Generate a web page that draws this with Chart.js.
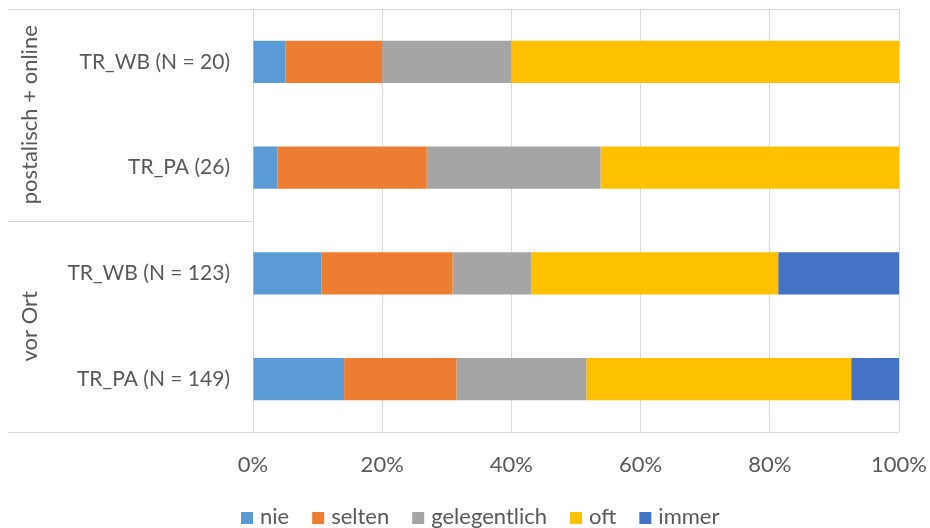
<!DOCTYPE html>
<html>
<head>
<meta charset="utf-8">
<script src="https://cdn.jsdelivr.net/npm/chart.js@4/dist/chart.umd.min.js"></script>
<style>
  html, body { margin: 0; padding: 0; background: #ffffff; }
  #wrap { width: 930px; height: 528px; }
</style>
</head>
<body>
<div id="wrap"><canvas id="c" width="930" height="528"></canvas></div>
<script>
// Categories (top to bottom) and the survey-mode group each belongs to
const categories = ['TR_WB (N = 20)', 'TR_PA (26)', 'TR_WB (N = 123)', 'TR_PA (N = 149)'];
const groups = ['postalisch + online', 'vor Ort'];
const groupSizes = [2, 2];

// Answer shares in percent per category
const seriesNames = ['nie', 'selten', 'gelegentlich', 'oft', 'immer'];
const nie          = [5.0, 3.8, 10.6, 14.1];
const selten       = [15.0, 23.1, 20.3, 17.4];
const gelegentlich = [20.0, 26.9, 12.2, 20.1];
const oft          = [60.0, 46.2, 38.2, 41.0];
const immer        = [0.0, 0.0, 18.7, 7.4];

// Value axis ticks
const xTicks = [0, 20, 40, 60, 80, 100];

const seriesColors = ['#5B9BD5', '#ED7D31', '#A5A5A5', '#FFC000', '#4472C4'];
const seriesValues = [nie, selten, gelegentlich, oft, immer];

const TEXT = '#595959';
const LINE = '#d9d9d9';
const FONT = 'Lato';
const FS = 21;       // category labels
const FS_BIG = 22;   // group labels, value ticks, legend

// Frame lines, group separators and rotated group labels on the left
const groupFrame = {
  id: 'groupFrame',
  afterDraw(chart) {
    const { ctx, chartArea, scales } = chart;
    const y = scales.y;
    const xStart = 8;
    ctx.save();
    ctx.strokeStyle = LINE;
    ctx.lineWidth = 1;
    const hline = (yy, x0, x1) => {
      const p = Math.round(yy) + 0.5;
      ctx.beginPath(); ctx.moveTo(x0, p); ctx.lineTo(x1, p); ctx.stroke();
    };
    hline(chartArea.top, xStart, chartArea.right);
    hline(chartArea.bottom, xStart, chartArea.right);

    let idx = 0;
    ctx.fillStyle = TEXT;
    ctx.font = FS_BIG + 'px ' + FONT;
    ctx.textAlign = 'center';
    ctx.textBaseline = 'middle';
    groups.forEach((g, gi) => {
      const first = idx;
      const last = idx + groupSizes[gi] - 1;
      const top = y.getPixelForValue(first - 0.5);
      const bottom = y.getPixelForValue(last + 0.5);
      if (gi < groups.length - 1) hline(bottom, xStart, chartArea.left);
      ctx.save();
      ctx.translate(30, (top + bottom) / 2);
      ctx.rotate(-Math.PI / 2);
      ctx.fillText(g, 0, 0);
      ctx.restore();
      idx += groupSizes[gi];
    });
    ctx.restore();
  }
};

// Legend row along the bottom edge
const bottomLegend = {
  id: 'bottomLegend',
  afterDraw(chart) {
    const ctx = chart.ctx;
    ctx.save();
    ctx.font = FS_BIG + 'px ' + FONT;
    const box = 12, gapText = 7, gapItem = 23;
    const items = chart.data.datasets.map(d => ({
      text: d.label, color: d.backgroundColor, w: ctx.measureText(d.label).width
    }));
    const total = items.reduce((s, it) => s + box + gapText + it.w, 0) + gapItem * (items.length - 1);
    let x = Math.round(480 - total / 2);
    const yMid = 518;
    ctx.textBaseline = 'middle';
    ctx.textAlign = 'left';
    items.forEach(it => {
      ctx.fillStyle = it.color;
      ctx.fillRect(x, yMid - box / 2, box, box);
      ctx.fillStyle = TEXT;
      ctx.fillText(it.text, x + box + gapText, yMid - 1);
      x += box + gapText + it.w + gapItem;
    });
    ctx.restore();
  }
};

const zeroPadding = scale => {
  scale.paddingTop = 0; scale.paddingBottom = 0;
  scale.paddingLeft = 0; scale.paddingRight = 0;
};

new Chart(document.getElementById('c'), {
  type: 'bar',
  data: {
    labels: categories,
    datasets: seriesNames.map((name, i) => ({
      label: name,
      data: seriesValues[i],
      backgroundColor: seriesColors[i],
      borderWidth: 0,
      categoryPercentage: 1.0,
      barPercentage: 0.4
    }))
  },
  options: {
    indexAxis: 'y',
    responsive: false,
    animation: false,
    events: [],
    layout: { padding: { left: 0, right: 31, top: 9, bottom: 0 } },
    plugins: {
      legend: { display: false },
      tooltip: { enabled: false }
    },
    scales: {
      x: {
        stacked: true,
        min: 0,
        max: 100,
        afterBuildTicks(scale) { scale.ticks = xTicks.map(v => ({ value: v })); },
        afterFit(scale) { scale.height = 96; zeroPadding(scale); },
        grid: { color: LINE, lineWidth: 1, drawTicks: false },
        border: { display: false },
        ticks: {
          padding: 20,
          maxRotation: 0,
          color: TEXT,
          font: { family: FONT, size: FS_BIG },
          callback: v => v + '%'
        }
      },
      y: {
        stacked: true,
        afterFit(scale) { scale.width = 253; zeroPadding(scale); },
        grid: { display: false, drawTicks: false },
        border: { display: true, color: LINE, width: 1 },
        ticks: {
          padding: 23,
          color: TEXT,
          font: { family: FONT, size: FS }
        }
      }
    }
  },
  plugins: [groupFrame, bottomLegend]
});
</script>
</body>
</html>
